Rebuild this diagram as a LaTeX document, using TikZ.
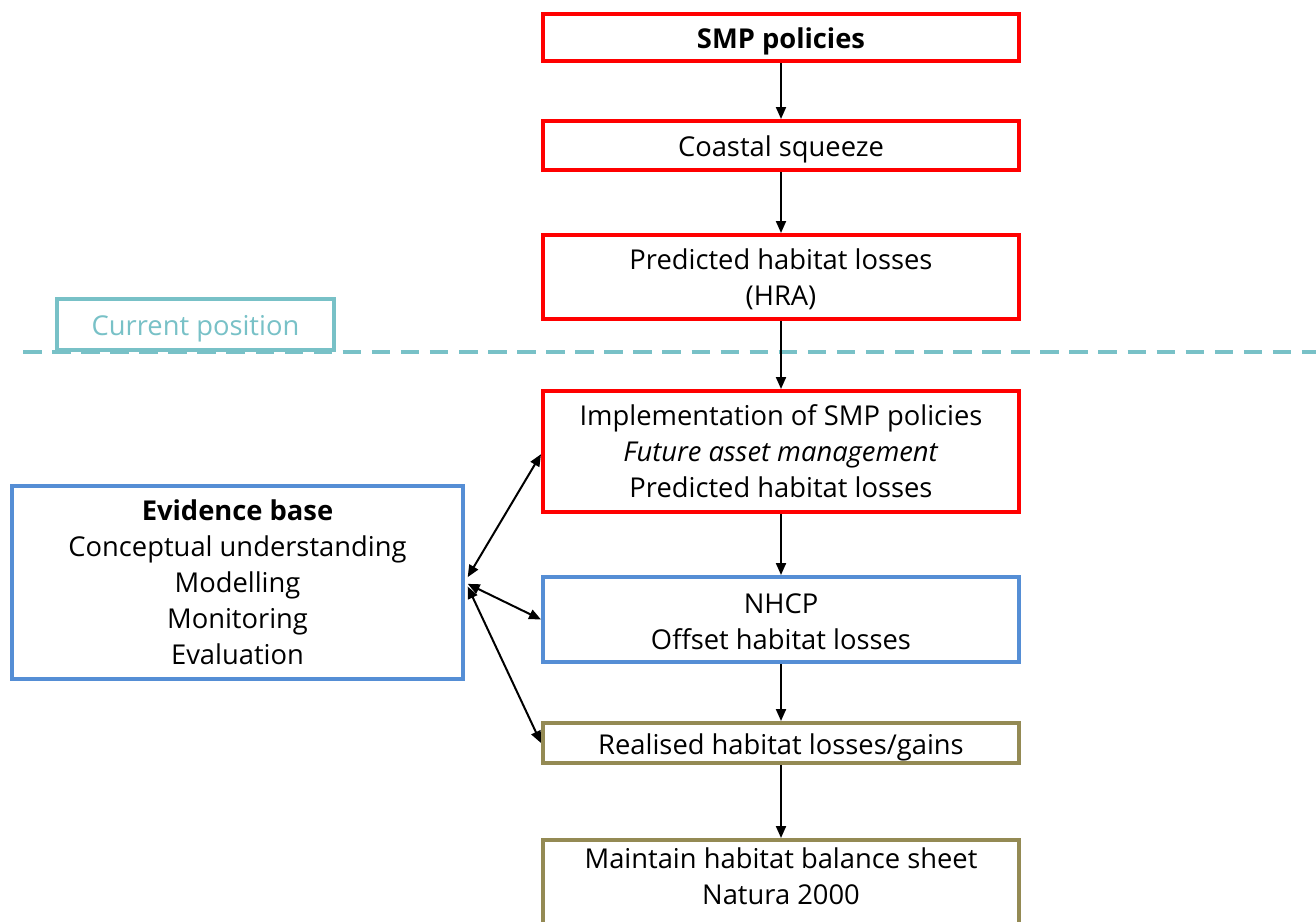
\documentclass[tikz,border=0pt]{standalone}
\usepackage{fontspec}
\setmainfont{Open Sans}
\usetikzlibrary{arrows.meta}
\definecolor{boxred}{RGB}{255,0,0}
\definecolor{boxblue}{RGB}{85,142,213}
\definecolor{boxolive}{RGB}{148,138,84}
\definecolor{teal}{RGB}{120,193,199}
\newcommand{\boxfont}{\fontsize{20.5}{27}\selectfont}
\newcommand{\lowstrut}{\rule{0pt}{22pt}}
\tikzset{
  box/.style={draw, line width=3pt, fill=white, inner sep=0pt, align=center,
    minimum width=357pt, font=\boxfont},
  redbox/.style={box, draw=boxred},
  bluebox/.style={box, draw=boxblue},
  olivebox/.style={box, draw=boxolive},
  flow/.style={line width=1.5pt, -{Triangle[length=9pt,width=7.5pt]}},
  twoway/.style={line width=1.5pt, {Triangle[length=9pt,width=7.5pt]}-{Triangle[length=9pt,width=7.5pt]}},
}
\begin{document}
\begin{tikzpicture}[x=0.75pt, y=-0.75pt]
\useasboundingbox (0,0) rectangle (1316,921);
\clip (0,0) rectangle (1316,921);

% main chain
\node[redbox, minimum height=35.25pt, font=\boxfont\bfseries] (smp) at (781,37.5) {\lowstrut SMP policies};
\node[redbox, minimum height=36.75pt] (squeeze) at (781,145.5) {\lowstrut Coastal squeeze};
\node[redbox, minimum height=63pt] (pred) at (781,277) {\rule{0pt}{19pt}Predicted habitat losses\\(HRA)};

% divider between present and future
\draw[teal, line width=3.5pt, dash pattern=on 13.9pt off 7.9pt] (23,352) -- (1316,352);
\node[draw=teal, line width=3pt, fill=white, inner sep=0pt, minimum width=207.75pt,
  minimum height=38.25pt, text=teal, font=\boxfont] (current) at (195.5,324.5) {\lowstrut Current position};

\node[redbox, minimum height=90.75pt] (impl) at (781,451.5)
  {Implementation of SMP policies\\\textit{Future asset management}\\Predicted habitat losses};
\node[bluebox, minimum height=63.75pt] (nhcp) at (781,619.5) {\rule{0pt}{18pt}NHCP\\Offset habitat losses};
\node[olivebox, minimum height=30pt] (real) at (781,743) {\lowstrut Realised habitat losses/gains};
\node[olivebox, minimum height=64.5pt, anchor=north] (sheet) at (781,838)
  {\rule{0pt}{21pt}Maintain habitat balance sheet\\Natura 2000\\[-6pt]};

% evidence base
\node[bluebox, minimum width=338.25pt, minimum height=144.75pt] (evid) at (237.5,582.5)
  {\textbf{Evidence base}\\Conceptual understanding\\Modelling\\Monitoring\\Evaluation};

% arrows
\draw[flow] (smp) -- (squeeze);
\draw[flow] (squeeze) -- (pred);
\draw[flow] (pred) -- (impl);
\draw[flow] (impl) -- (nhcp);
\draw[flow] (nhcp) -- (real);
\draw[flow] (real) -- (sheet);

\coordinate (hub) at ([xshift=2pt]evid.east);
\draw[twoway] ([yshift=4pt]hub) -- ([yshift=-2pt]impl.west);
\draw[twoway] ([yshift=-1pt]hub) -- (nhcp.west);
\draw[twoway] ([yshift=-3pt]hub) -- (real.west);
\end{tikzpicture}
\end{document}
